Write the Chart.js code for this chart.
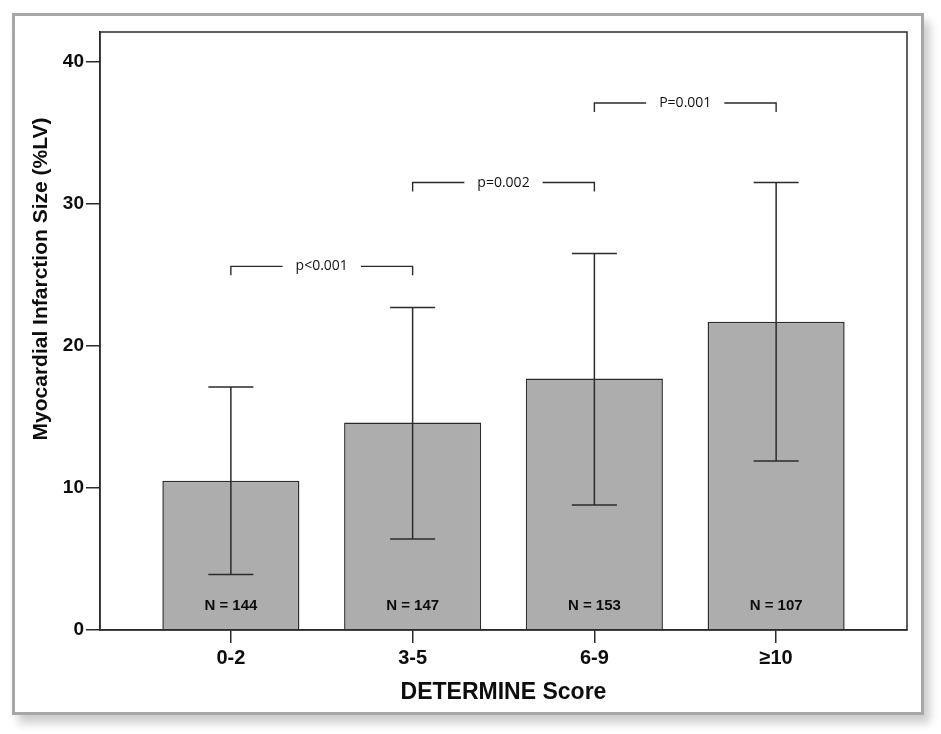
<!DOCTYPE html>
<html>
<head>
<meta charset="utf-8">
<script src="https://cdn.jsdelivr.net/npm/chart.js@4.4.1/dist/chart.umd.min.js"></script>
<style>
  html, body { margin: 0; padding: 0; background: #fff; }
  #frame {
    position: absolute; left: 12px; top: 13px; width: 906px; height: 696px;
    border: 3px solid #a7a7a7; background: #fff;
    box-shadow: 6px 8px 9px rgba(0, 0, 0, 0.2);
  }
  #infarctChart { position: absolute; left: 0; top: 0; }
</style>
</head>
<body>
<div id="frame"></div>
<canvas id="infarctChart" width="941" height="734"></canvas>
<script>
    // values
    const scoreGroups = ['0-2', '3-5', '6-9', '≥10'];
    const meanSize = [10.5, 14.6, 17.7, 21.7];
    const errLow = [3.9, 6.4, 8.8, 11.9];
    const errHigh = [17.1, 22.7, 26.5, 31.5];
    const groupN = [144, 147, 153, 107];
    const yTicks = [0, 10, 20, 30, 40];

    // significance brackets (group index from / to, height in %LV)
    const bracketFrom = [0, 1, 2];
    const bracketTo = [1, 2, 3];
    const bracketLevel = [25.6, 31.5, 37.1];
    const bracketText = ['p<0.001', 'p=0.002', 'P=0.001'];

    const ink = '#2b2b2b';
    const boldFont = '"Liberation Sans", Arial, sans-serif';

    const annotations = {
        id: 'annotations',
        afterDatasetsDraw(chart) {
            const { ctx, chartArea: area, scales: { x, y } } = chart;
            ctx.save();

            // error bars
            ctx.strokeStyle = ink;
            ctx.lineWidth = 1.5;
            meanSize.forEach((m, i) => {
                const cx = x.getPixelForValue(i);
                const lo = y.getPixelForValue(errLow[i]);
                const hi = y.getPixelForValue(errHigh[i]);
                ctx.beginPath();
                ctx.moveTo(cx, lo); ctx.lineTo(cx, hi);
                ctx.moveTo(cx - 22.5, lo); ctx.lineTo(cx + 22.5, lo);
                ctx.moveTo(cx - 22.5, hi); ctx.lineTo(cx + 22.5, hi);
                ctx.stroke();
            });

            // N labels inside the bars
            ctx.fillStyle = '#0d0d0d';
            ctx.font = 'bold 15px ' + boldFont;
            ctx.textAlign = 'center';
            ctx.textBaseline = 'middle';
            groupN.forEach((n, i) => {
                ctx.fillText('N = ' + n, x.getPixelForValue(i), y.getPixelForValue(0) - 24);
            });

            // brackets
            ctx.font = '14px "Open Sans", sans-serif';
            ctx.fillStyle = '#111';
            ctx.lineWidth = 1.4;
            bracketText.forEach((t, i) => {
                const x1 = x.getPixelForValue(bracketFrom[i]);
                const x2 = x.getPixelForValue(bracketTo[i]);
                const by = y.getPixelForValue(bracketLevel[i]);
                const mid = (x1 + x2) / 2;
                const half = ctx.measureText(t).width / 2 + 13;
                ctx.beginPath();
                ctx.moveTo(x1, by + 9); ctx.lineTo(x1, by); ctx.lineTo(mid - half, by);
                ctx.moveTo(mid + half, by); ctx.lineTo(x2, by); ctx.lineTo(x2, by + 9);
                ctx.stroke();
                ctx.fillText(t, mid, by);
            });

            // plot box
            ctx.strokeStyle = ink;
            ctx.lineWidth = 1.5;
            ctx.strokeRect(area.left, area.top, area.width, area.height);

            // y axis title
            ctx.translate(41, 279);
            ctx.rotate(-Math.PI / 2);
            ctx.fillStyle = '#0d0d0d';
            ctx.font = 'bold 21px ' + boldFont;
            ctx.fillText('Myocardial Infarction Size (%LV)', 0, 0);
            ctx.restore();
        }
    };

    const infarctChart = new Chart(document.getElementById('infarctChart').getContext('2d'), {
        type: 'bar',
        data: {
            datasets: [{
                data: scoreGroups.map((g, i) => ({ x: i, y: meanSize[i] })),
                backgroundColor: '#adadad',
                borderColor: ink,
                borderWidth: 1.5,
                barPercentage: 1,
                categoryPercentage: 0.754
            }]
        },
        options: {
            responsive: false,
            animation: false,
            layout: { padding: { top: 32, right: 34, left: 0, bottom: 0 } },
            plugins: { legend: { display: false }, tooltip: { enabled: false } },
            scales: {
                x: {
                    type: 'linear',
                    min: -0.72,
                    max: 3.72,
                    offset: false,
                    afterBuildTicks: scale => { scale.ticks = scoreGroups.map((g, i) => ({ value: i })); },
                    afterFit: scale => { scale.height = 104; },
                    grid: { offset: false, drawOnChartArea: false, tickLength: 13, color: ink, lineWidth: 1.5 },
                    border: { display: true, color: ink, width: 1.5 },
                    ticks: {
                        autoSkip: false,
                        maxRotation: 0,
                        padding: 3,
                        color: '#0d0d0d',
                        font: { family: boldFont, size: 20, weight: 'bold' },
                        callback: (v, i) => scoreGroups[i]
                    },
                    title: {
                        display: true,
                        text: 'DETERMINE Score',
                        color: '#0d0d0d',
                        font: { family: boldFont, size: 23, weight: 'bold' },
                        padding: { top: 0, bottom: 28 }
                    }
                },
                y: {
                    min: 0,
                    max: 42.1,
                    afterBuildTicks: scale => { scale.ticks = yTicks.map(v => ({ value: v })); },
                    afterFit: scale => { scale.width = 100; },
                    grid: { drawOnChartArea: false, tickLength: 14, color: ink, lineWidth: 1.5 },
                    border: { display: true, color: ink, width: 1.5 },
                    ticks: {
                        padding: 2,
                        color: '#0d0d0d',
                        font: { family: boldFont, size: 19, weight: 'bold' }
                    }
                }
            }
        },
        plugins: [annotations]
    });
</script>
</body>
</html>
